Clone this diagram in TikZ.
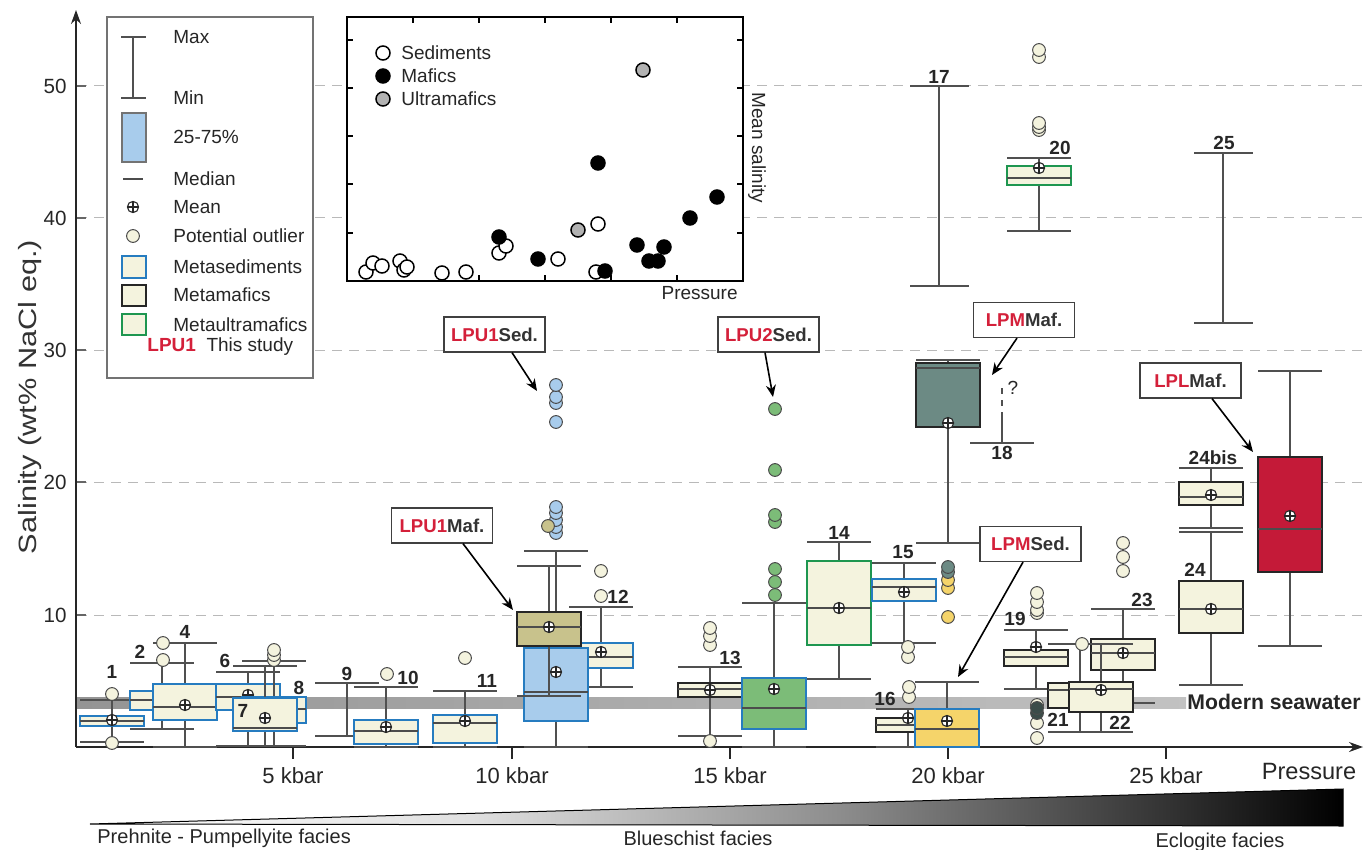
\documentclass[tikz,border=0pt]{standalone}
\usepackage{fontspec}
\usepackage{graphicx}
\setmainfont{Liberation Sans}
\usetikzlibrary{arrows.meta,calc}

\definecolor{cream}{RGB}{244,243,222}
\definecolor{sedblue}{RGB}{38,124,192}
\definecolor{ultgreen}{RGB}{30,150,80}
\definecolor{sedlightblue}{RGB}{168,204,236}
\definecolor{mafolive}{RGB}{200,194,140}
\definecolor{sedgreen}{RGB}{124,188,120}
\definecolor{mafteal}{RGB}{108,138,132}
\definecolor{sedyellow}{RGB}{245,212,106}
\definecolor{mafred}{RGB}{196,26,56}
\definecolor{lpred}{RGB}{212,32,58}
\definecolor{whiskgray}{RGB}{80,80,80}
\definecolor{gridgray}{RGB}{185,185,185}

\pgfdeclarehorizontalshading{faciesgrad}{100bp}{color(0bp)=(white); color(25bp)=(white); color(40bp)=(white!88!black); color(55bp)=(black!45); color(68bp)=(black!80); color(75bp)=(black); color(100bp)=(black)}

\tikzset{
  whisk/.style={draw=whiskgray, line width=0.65pt},
  sedbox/.style={draw=sedblue, fill=cream, line width=1pt},
  mafbox/.style={draw=black!85, fill=cream, line width=1.2pt},
  ultbox/.style={draw=ultgreen, fill=cream, line width=1pt},
  medline/.style={draw=black!70, line width=0.6pt},
  meanmark/.style={draw=black!85, line width=0.55pt},
  outlier/.style={draw=black!70, line width=0.5pt},
  numlbl/.style={font=\fontsize{9.5}{11}\selectfont\bfseries, text=black!85, inner sep=0pt},
  callout/.style={draw=black!75, fill=white, line width=0.6pt, font=\fontsize{9.3}{11}\selectfont\bfseries, text=black!80, minimum width=50.5pt, minimum height=17.5pt, inner sep=0pt},
  callarrow/.style={-{Stealth[length=6pt,width=5pt]}, line width=0.8pt},
  legtext/.style={font=\fontsize{9.5}{11}\selectfont, anchor=west, inner sep=0pt, text=black!85},
  ticklbl/.style={font=\fontsize{11}{13}\selectfont, text=black!85, inner sep=0pt},
  gridline/.style={draw=gridgray, dash pattern=on 5pt off 3.5pt, line width=0.5pt},
  axisline/.style={draw=black!85, line width=0.7pt},
  sedpt/.style={draw=black, fill=white, line width=0.75pt},
  mafpt/.style={draw=black, fill=black, line width=0.75pt},
  ultpt/.style={draw=black, fill=black!30, line width=0.75pt},
}

% mean marker
\newcommand{\meansym}[2]{%
  \draw[meanmark, fill=white] (#1,#2) circle[radius=2.8pt];
  \draw[meanmark] (#1-5.5,#2) -- (#1+5.5,#2) (#1,#2-5.5) -- (#1,#2+5.5);}
% box plot: x, max, q75, median, q25, min, mean, style
\newcommand{\bplot}[8]{%
  \draw[whisk] (#1,#2) -- (#1,#6);
  \draw[whisk] (#1-32,#2) -- (#1+32,#2) (#1-32,#6) -- (#1+32,#6);
  \draw[#8] (#1-32,#3) rectangle (#1+32,#5);
  \draw[medline] (#1-32,#4) -- (#1+32,#4);
  \meansym{#1}{#7}}
\newcommand{\outl}[3]{\draw[outlier, fill=#1] (#2,#3) circle[radius=3.2pt];}

\begin{document}
\begin{tikzpicture}[x=0.5pt, y=-0.5pt]
  \useasboundingbox (0,0) rectangle (1365,850);

  % grid
  \foreach \y/\v in {615/10,482/20,350/30,218/40,86/50} {
    \draw[gridline] (77,\y) -- (1365,\y);
    \draw[draw=black!60, line width=0.6pt] (76,\y) -- (86,\y);
    \node[ticklbl, font=\fontsize{10.3}{12}\selectfont, anchor=east] (y\v) at (67,\y) {\v};
  }
  \node[rotate=90, font=\fontsize{12.5}{14}\selectfont, text=black!80, inner sep=0pt] (ylab) at (30,397) {\scalebox{1.23}[1]{Salinity (wt\% NaCl eq.)}};

  % seawater
  \shade[left color=black!42, right color=black!24] (77,697) rectangle (1186,708);
  \node[font=\fontsize{10.6}{12}\selectfont\bfseries, text=black!85, anchor=east, inner sep=0pt] (sea) at (1361,702) {Modern seawater};

  % legend
  \draw[draw=black!55, fill=white, line width=0.6pt] (107,17) rectangle (313,378);
  \draw[whisk] (133,37) -- (133,98) (121,37) -- (146,37) (121,98) -- (146,98);
  \draw[draw=black!55, fill=sedlightblue, line width=0.6pt] (122,113) rectangle (146,162);
  \draw[medline] (123,179) -- (143,179);
  \meansym{133}{207}
  \outl{cream}{133}{236}
  \draw[sedbox] (122,256) rectangle (146,278);
  \draw[mafbox] (122,285) rectangle (146,306);
  \draw[ultbox] (122,314) rectangle (146,335);
  \node[legtext] (lmax) at (173,37) {Max};
  \node[legtext] (lmin) at (173,98) {Min};
  \node[legtext] (lq) at (173,137) {25-75\%};
  \node[legtext] (lmed) at (173,179) {Median};
  \node[legtext] (lmean) at (173,207) {Mean};
  \node[legtext] (lout) at (173,236) {Potential outlier};
  \node[legtext] (lsed) at (173,267) {Metasediments};
  \node[legtext] (lmaf) at (173,295) {Metamafics};
  \node[legtext] (lult) at (173,325) {Metaultramafics};
  \node[legtext] (lstudy) at (147,347) {{\bfseries\color{lpred}LPU1}\ \ This study};

  % inset
  \draw[draw=black, fill=white, line width=0.7pt] (347,17) rectangle (743,281);
  \foreach \t in {40,88,136,184,233} {
    \draw[line width=0.6pt] (347,\t) -- (353,\t) (743,\t) -- (737,\t);
  }
  \foreach \t in {413,479,545,611,677} {
    \draw[line width=0.6pt] (\t,17) -- (\t,23);
  }
  \foreach \t in {479,545,611,677} {
    \draw[line width=0.6pt] (\t,281) -- (\t,275);
  }
  \foreach \px/\py in {366/272,373/263,382/266,400/261,404/270,407/267,442/273,466/272,499/253,506/246,558/259,598/224,596/272}
    \draw[sedpt] (\px,\py) circle[radius=3.5pt];
  \foreach \px/\py in {499/237,538/259,598/163,605/271,637/245,649/261,658/261,664/247,690/218,717/197}
    \draw[mafpt] (\px,\py) circle[radius=3.5pt];
  \foreach \px/\py in {578/230,643/70}
    \draw[ultpt] (\px,\py) circle[radius=3.5pt];
  \draw[sedpt] (383,53) circle[radius=3.5pt];
  \draw[mafpt] (383,76) circle[radius=3.5pt];
  \draw[ultpt] (383,99) circle[radius=3.5pt];
  \node[legtext] (ised) at (401,53) {Sediments};
  \node[legtext] (imaf) at (401,76) {Mafics};
  \node[legtext] (iult) at (401,99) {Ultramafics};
  \node[legtext, rotate=-90, anchor=center] (isal) at (757,148) {Mean salinity};
  \node[legtext, anchor=east] (ipres) at (738,293) {Pressure};

  % axes
  \coordinate (origin) at (76,747);
  \coordinate (ytop) at (76,10);
  \coordinate (xend) at (1363,747);
  \draw[axisline, -{Stealth[length=7pt,width=5pt]}] (origin) -- (ytop);
  \draw[axisline, -{Stealth[length=7pt,width=5pt]}] (origin) -- (xend);
  \foreach \x/\k in {293/5,512/10,730/15,948/20,1166/25} {
    \draw[axisline] (\x,747) -- (\x,759);
    \node[ticklbl] (k\k) at (\x,776) {\k\ kbar};
  }
  \node[ticklbl, font=\fontsize{11.8}{14}\selectfont] (pres) at (1309,771) {Pressure};

  % boxes
  \bplot{112}{700}{716}{721}{726}{742}{720}{sedbox}
  \bplot{162}{663}{691}{700}{710}{729}{700}{sedbox}
  \bplot{185}{643}{684}{707}{720}{747}{705}{sedbox}
  \bplot{248}{672}{684}{697}{710}{746}{695}{sedbox}
  \bplot{274}{661}{697}{709}{723}{746}{712}{sedbox}
  \bplot{265}{666}{698}{728}{731}{746}{718}{sedbox}
  \draw[whisk] (347,683) -- (347,736) (315,683) -- (379,683) (315,736) -- (379,736);
  \bplot{386}{687}{720}{731}{744}{747}{727}{sedbox}
  \bplot{465}{691}{715}{723}{743}{747}{721}{sedbox}
  \bplot{601}{607}{643}{657}{668}{687}{652}{sedbox}
  \bplot{556}{551}{648}{692}{721}{747}{672}{sedbox, fill=sedlightblue}
  \bplot{549}{566}{612}{627}{646}{696}{627}{mafbox, fill=mafolive}
  \bplot{710}{667}{683}{689}{697}{736}{690}{mafbox}
  \bplot{774}{603}{678}{708}{729}{747}{689}{sedbox, fill=sedgreen}
  \bplot{839}{542}{561}{608}{645}{679}{608}{ultbox}
  \bplot{904}{563}{579}{587}{601}{643}{592}{sedbox}
  \bplot{908}{709}{718}{725}{732}{747}{718}{mafbox}
  \bplot{947}{682}{709}{729}{747}{747}{721}{sedbox, fill=sedyellow}
  \bplot{948}{360}{363}{368}{427}{543}{423}{mafbox, fill=mafteal}
  \draw[whisk] (939,86) -- (939,286) (910,86) -- (969,86) (910,286) -- (969,286);
  \draw[whisk, dashed] (1002,388) -- (1002,413);
  \draw[whisk] (1002,413) -- (1002,443) (970,443) -- (1034,443);
  \node[legtext, anchor=center] (qmark) at (1013,388) {?};
  \bplot{1036}{630}{650}{657}{666}{689}{647}{mafbox}
  \bplot{1039}{158}{166}{178}{185}{231}{168}{ultbox}
  \bplot{1123}{609}{639}{653}{670}{703}{653}{mafbox}
  \bplot{1080}{644}{683}{690}{708}{732}{695}{mafbox}
  \bplot{1101}{644}{682}{689}{712}{732}{690}{mafbox}
  \bplot{1211}{468}{482}{497}{505}{528}{495}{mafbox}
  \bplot{1211}{532}{581}{609}{633}{685}{609}{mafbox}
  \draw[whisk] (1223,153) -- (1223,323) (1194,153) -- (1253,153) (1194,323) -- (1253,323);
  \bplot{1290}{371}{457}{529}{572}{646}{516}{mafbox, fill=mafred}

  % outliers
  \foreach \px/\py in {163/660,163/643,112/694,112/743,274/660,274/655,274/650,387/674,465/658,601/596,601/571,710/645,710/636,710/628,710/741,908/657,908/647,909/697,909/687,1037/613,1037/610,1037/602,1037/593,1037/738,1037/723,1037/705,1039/57,1039/50,1039/130,1039/127,1039/123,1123/571,1123/557,1123/543,1082/644} {
    \outl{cream}{\px}{\py}
  }
  \outl{mafteal!55!black}{1037}{713}
  \outl{mafteal!55!black}{1037}{708}
  \foreach \py in {533,527,520,513,507,422,403,397,385} {
    \outl{sedlightblue}{556}{\py}
  }
  \outl{mafolive}{548}{526}
  \foreach \py in {595,582,569,522,515,470,409} {
    \outl{sedgreen}{775}{\py}
  }
  \outl{sedyellow}{948}{617}
  \outl{sedyellow}{948}{588}
  \outl{sedyellow}{948}{580}
  \outl{mafteal}{948}{572}
  \outl{mafteal}{948}{567}

  % numbers
  \foreach \n/\x/\y in {1/112/672,2/140/652,4/185/632,6/225/661,7/243/711,8/299/688,9/347/674,10/408/678,11/487/681,12/618/597,13/730/658,14/839/533,15/903/552,16/885/699,17/939/77,18/1002/453,19/1015/619,20/1060/148,21/1058/720,22/1120/723,23/1142/600,24bis/1213/458,24/1195/570,25/1224/143}
    \node[numlbl] (n\n) at (\x,\y) {\n};

  % callouts
  \node[callout] (lpused) at (494.5,334.5) {{\color{lpred}LPU1}Sed.};
  \node[callout] (lputwo) at (768.5,334.5) {{\color{lpred}LPU2}Sed.};
  \node[callout] (lpumaf) at (442,525.5) {{\color{lpred}LPU1}Maf.};
  \node[callout] (lpmmaf) at (1024,320) {{\color{lpred}LPM}Maf.};
  \node[callout] (lpmsed) at (1030.5,544) {{\color{lpred}LPM}Sed.};
  \node[callout] (lplmaf) at (1190.5,380.5) {{\color{lpred}LPL}Maf.};
  \coordinate (tused) at (537,391);
  \coordinate (ttwo) at (773,397);
  \coordinate (tumaf) at (513,610);
  \coordinate (tmmaf) at (992,375);
  \coordinate (tmsed) at (958,677);
  \coordinate (tlmaf) at (1253,452);
  \draw[callarrow] ($(lpused.south)+(17.5,0)$) -- (tused);
  \draw[callarrow] ($(lputwo.south)+(-3.5,0)$) -- (ttwo);
  \draw[callarrow] ($(lpumaf.south)+(21,0)$) -- (tumaf);
  \draw[callarrow] ($(lpmmaf.south)+(-7,0)$) -- (tmmaf);
  \draw[callarrow] ($(lpmsed.south)+(-7.5,0)$) -- (tmsed);
  \draw[callarrow] ($(lplmaf.south)+(21.5,0)$) -- (tlmaf);

  % facies wedge
  \shadedraw[shading=faciesgrad, draw=black, line width=0.5pt] (90,824) -- (1343,789) -- (1343,826) -- cycle;
  \node[ticklbl, font=\fontsize{10}{12}\selectfont, anchor=west] (fpp) at (97,838) {Prehnite - Pumpellyite facies};
  \node[ticklbl, font=\fontsize{10}{12}\selectfont] (fbs) at (698,838) {Blueschist facies};
  \node[ticklbl, font=\fontsize{10}{12}\selectfont] (fec) at (1220,842) {Eclogite facies};
\end{tikzpicture}
\end{document}
